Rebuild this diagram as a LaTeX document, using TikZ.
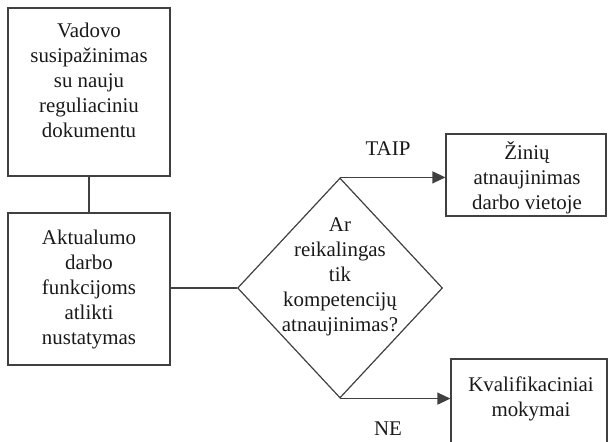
\documentclass[tikz,border=0pt]{standalone}
\usepackage{fontspec}
\setmainfont{Liberation Serif}
\usetikzlibrary{shapes.geometric,arrows.meta}
\begin{document}
\begin{tikzpicture}[x=1pt,y=-1pt,
  every node/.style={font=\fontsize{20.9}{25}\selectfont, text=black!90},
  box/.style={draw=black!75, line width=1.2pt, rectangle, inner sep=0pt, align=center},
  txt/.style={align=center, inner sep=0pt},
  conn/.style={draw=black!75, line width=1.2pt},
  arr/.style={conn, -{Triangle[length=13pt,width=12pt]}}]
\useasboundingbox (0,0) rectangle (609,441);
\clip (0,0) rectangle (609,441);
\node[box, minimum width=162pt, minimum height=168pt] (b1) at (89,92) {};
\node[txt] (t1) at (89,80) {Vadovo\\susipažinimas\\su nauju\\reguliaciniu\\dokumentu};
\node[box, minimum width=162pt, minimum height=152pt] (b2) at (89,289) {};
\node[txt] (t2) at (89,289) {Aktualumo\\darbo\\funkcijoms\\atlikti\\nustatymas};
\node[draw=black!75, line width=1.2pt, shape=diamond, inner sep=0pt, minimum width=205pt, minimum height=220pt] (d) at (340,288) {};
\node[txt] (td) at (340,277) {Ar\\reikalingas\\tik\\kompetencijų\\atnaujinimas?};
\node[box, minimum width=160pt, minimum height=82pt] (z) at (526,175) {};
\node[txt] (tz) at (527,178) {Žinių\\atnaujinimas\\darbo vietoje};
\node[box, minimum width=156pt, minimum height=90pt] (k) at (529,404) {};
\node[txt] (tk) at (531,399) {Kvalifikaciniai\\mokymai};
\node[txt, anchor=base] (taip) at (388,155) {TAIP};
\node[txt, anchor=base] (ne) at (388,435.5) {NE};
\draw[conn] (b1.south) -- (b2.north);
\draw[conn] (b2.east |- d.west) -- (d.west);
\draw[arr] (d.north) -- (d.north -| z.west);
\draw[arr] (d.south) -- (d.south -| k.west);
\end{tikzpicture}
\end{document}
